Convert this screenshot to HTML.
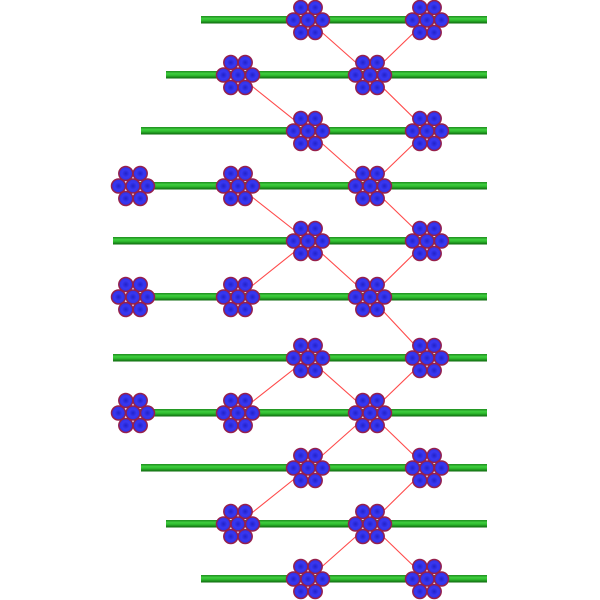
<!DOCTYPE html>
<html><head><meta charset="utf-8"><style>
html,body{margin:0;padding:0;background:#fff;}
svg{display:block;}
</style></head><body>
<svg width="600" height="600" viewBox="0 0 600 600" xmlns="http://www.w3.org/2000/svg">
<defs>
<linearGradient id="g" x1="0" y1="0" x2="0" y2="1">
<stop offset="0" stop-color="#1e8c1e"/>
<stop offset="0.35" stop-color="#3fcf3f"/>
<stop offset="0.6" stop-color="#2db82d"/>
<stop offset="1" stop-color="#0d650d"/>
</linearGradient>
<radialGradient id="b" cx="0.5" cy="0.5" r="0.5">
<stop offset="0" stop-color="#2222c8"/>
<stop offset="0.55" stop-color="#3838f2"/>
<stop offset="1" stop-color="#3030e0"/>
</radialGradient>
<g id="c">
<circle cx="0" cy="0" r="7"/>
<circle cx="-14.5" cy="0" r="7"/>
<circle cx="14.5" cy="0" r="7"/>
<circle cx="-7.2" cy="-12.5" r="7"/>
<circle cx="7.2" cy="-12.5" r="7"/>
<circle cx="-7.2" cy="12.5" r="7"/>
<circle cx="7.2" cy="12.5" r="7"/>
</g>
</defs>
<g fill="url(#g)">
<rect x="201" y="16" width="286" height="7.5"/>
<rect x="166" y="71" width="321" height="7.5"/>
<rect x="141" y="127" width="346" height="7.5"/>
<rect x="133" y="182" width="354" height="7.5"/>
<rect x="113" y="237" width="374" height="7.5"/>
<rect x="133" y="293" width="354" height="7.5"/>
<rect x="113" y="354" width="374" height="7.5"/>
<rect x="133" y="409" width="354" height="7.5"/>
<rect x="141" y="464" width="346" height="7.5"/>
<rect x="166" y="520" width="321" height="7.5"/>
<rect x="201" y="575" width="286" height="7.5"/>
</g>
<g stroke="#ff4a4a" stroke-width="1.1" fill="none">
<line x1="308" y1="20" x2="370" y2="75"/>
<line x1="427" y1="20" x2="370" y2="75"/>
<line x1="238" y1="75" x2="308" y2="131"/>
<line x1="370" y1="75" x2="427" y2="131"/>
<line x1="308" y1="131" x2="370" y2="186"/>
<line x1="427" y1="131" x2="370" y2="186"/>
<line x1="238" y1="186" x2="308" y2="241"/>
<line x1="370" y1="186" x2="427" y2="241"/>
<line x1="308" y1="241" x2="238" y2="297"/>
<line x1="308" y1="241" x2="370" y2="297"/>
<line x1="427" y1="241" x2="370" y2="297"/>
<line x1="370" y1="297" x2="427" y2="358"/>
<line x1="308" y1="358" x2="238" y2="413"/>
<line x1="308" y1="358" x2="370" y2="413"/>
<line x1="427" y1="358" x2="370" y2="413"/>
<line x1="370" y1="413" x2="308" y2="468"/>
<line x1="370" y1="413" x2="427" y2="468"/>
<line x1="308" y1="468" x2="238" y2="524"/>
<line x1="427" y1="468" x2="370" y2="524"/>
<line x1="370" y1="524" x2="308" y2="579"/>
<line x1="370" y1="524" x2="427" y2="579"/>
</g>
<g fill="url(#b)" stroke="#96204c" stroke-width="1.5">
<use href="#c" x="308" y="20"/><use href="#c" x="427" y="20"/>
<use href="#c" x="238" y="75"/><use href="#c" x="370" y="75"/>
<use href="#c" x="308" y="131"/><use href="#c" x="427" y="131"/>
<use href="#c" x="133" y="186"/><use href="#c" x="238" y="186"/><use href="#c" x="370" y="186"/>
<use href="#c" x="308" y="241"/><use href="#c" x="427" y="241"/>
<use href="#c" x="133" y="297"/><use href="#c" x="238" y="297"/><use href="#c" x="370" y="297"/>
<use href="#c" x="308" y="358"/><use href="#c" x="427" y="358"/>
<use href="#c" x="133" y="413"/><use href="#c" x="238" y="413"/><use href="#c" x="370" y="413"/>
<use href="#c" x="308" y="468"/><use href="#c" x="427" y="468"/>
<use href="#c" x="238" y="524"/><use href="#c" x="370" y="524"/>
<use href="#c" x="308" y="579"/><use href="#c" x="427" y="579"/>
</g>
</svg>
</body></html>
